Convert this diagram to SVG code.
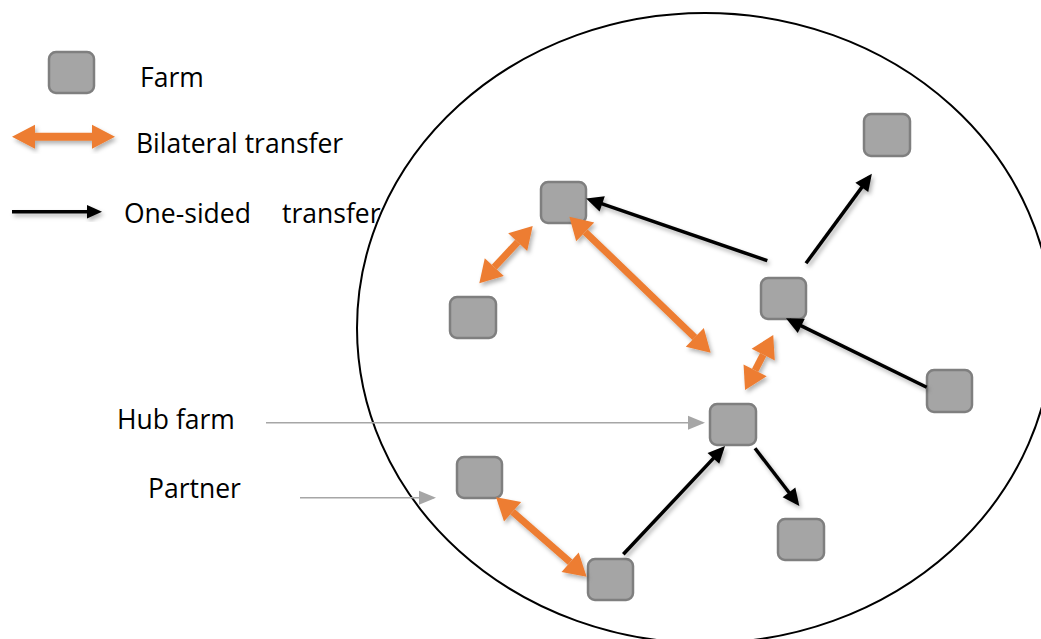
<svg xmlns="http://www.w3.org/2000/svg" width="1041" height="639" viewBox="0 0 1041 639">
<style>
.farm{fill:#a5a5a5;stroke:#7f7f7f;stroke-width:2.5}
.lbl{font-family:"Open Sans","Noto Sans","DejaVu Sans",sans-serif;font-size:26.5px;fill:#000;white-space:pre}
.bi{stroke:#ed7d31;stroke-width:7;fill:none;marker-start:url(#oh);marker-end:url(#oh)}
.one{stroke:#000;stroke-width:3.5;fill:none;marker-end:url(#bh)}
.ptr{stroke:#a6a6a6;stroke-width:1.5;fill:none;marker-end:url(#gh)}
</style>
<defs>
<filter id="sh" x="-20%" y="-20%" width="140%" height="140%">
<feDropShadow dx="2" dy="3" stdDeviation="2" flood-color="#000" flood-opacity="0.3"/>
</filter>
<marker id="oh" markerUnits="userSpaceOnUse" markerWidth="24" markerHeight="26" refX="0" refY="13" orient="auto-start-reverse" overflow="visible">
<path d="M0,0 L22,13 L0,26 z" fill="#ed7d31"/>
</marker>
<marker id="bh" markerUnits="userSpaceOnUse" markerWidth="17" markerHeight="16" refX="13" refY="8" orient="auto" overflow="visible">
<path d="M0,0 L17,8 L0,16 z" fill="#000"/>
</marker>
<marker id="gh" markerUnits="userSpaceOnUse" markerWidth="17" markerHeight="14" refX="15" refY="7" orient="auto" overflow="visible">
<path d="M0,0 L17,7 L0,14 z" fill="#a6a6a6"/>
</marker>
</defs>
<rect width="1041" height="639" fill="#fff"/>
<ellipse cx="705" cy="328" rx="348" ry="315" fill="none" stroke="#000" stroke-width="2"/>

<g id="legend">
<rect class="farm" x="49" y="52" width="45" height="41" rx="7"/>
<text class="lbl" x="140" y="87">Farm</text>
<g filter="url(#sh)">
<line x1="35" y1="136.7" x2="92" y2="136.7" stroke="#ed7d31" stroke-width="8"/>
<path d="M12,136.7 L35,124.7 L35,148.7 z M115,136.7 L92,124.7 L92,148.7 z" fill="#ed7d31"/>
</g>
<text class="lbl" x="136" y="153">Bilateral transfer</text>
<g filter="url(#sh)">
<line x1="12" y1="211.7" x2="88" y2="211.7" stroke="#000" stroke-width="3.5"/>
<path d="M87,205 L102,211.7 L87,218.4 z" fill="#000"/>
</g>
<text class="lbl" x="124" y="223">One-sided<tspan x="282">transfer</tspan></text>
<text class="lbl" x="117" y="429">Hub farm</text>
<text class="lbl" x="148" y="498">Partner</text>
</g>

<g id="nodeA"><rect class="farm" x="541" y="182" width="45" height="41" rx="7"/></g>
<g id="nodeB"><rect class="farm" x="450" y="297" width="46" height="41" rx="7"/></g>
<g id="nodeC"><rect class="farm" x="761" y="278" width="45" height="41" rx="7"/></g>
<g id="nodeD"><rect class="farm" x="864" y="114" width="46" height="42" rx="7"/></g>
<g id="nodeE"><rect class="farm" x="927" y="370" width="45" height="42" rx="7"/></g>
<g id="hub"><rect class="farm" x="710" y="404" width="46" height="41" rx="7"/></g>
<g id="partner"><rect class="farm" x="457" y="457" width="45" height="41" rx="7"/></g>
<g id="nodeF"><rect class="farm" x="588" y="559" width="45" height="41" rx="7"/></g>
<g id="nodeG"><rect class="farm" x="778" y="519" width="46" height="41" rx="7"/></g>

<g id="connectors">
<g filter="url(#sh)">
<line class="bi" x1="517.7" y1="242.1" x2="494.3" y2="267.2"/>
<line class="bi" x1="585.2" y1="231.9" x2="694.8" y2="337.4"/>
<line class="bi" x1="763.2" y1="354.6" x2="755.1" y2="370.4"/>
<line class="bi" x1="512.6" y1="511.8" x2="570.1" y2="562.2"/>
<line class="one" x1="767.3" y1="260.7" x2="589.9" y2="199.7"/>
<line class="one" x1="806" y1="263.3" x2="869.5" y2="176.9"/>
<line class="one" x1="926.7" y1="387.3" x2="789.6" y2="320.1"/>
<line class="one" x1="623.3" y1="554.3" x2="722.3" y2="448.9"/>
<line class="one" x1="755" y1="448.3" x2="796.9" y2="502.8"/>
</g>
<line class="ptr" x1="266" y1="422.7" x2="703" y2="422.7"/>
<line class="ptr" x1="300" y1="497.7" x2="434" y2="497.7"/>
</g>
</svg>
